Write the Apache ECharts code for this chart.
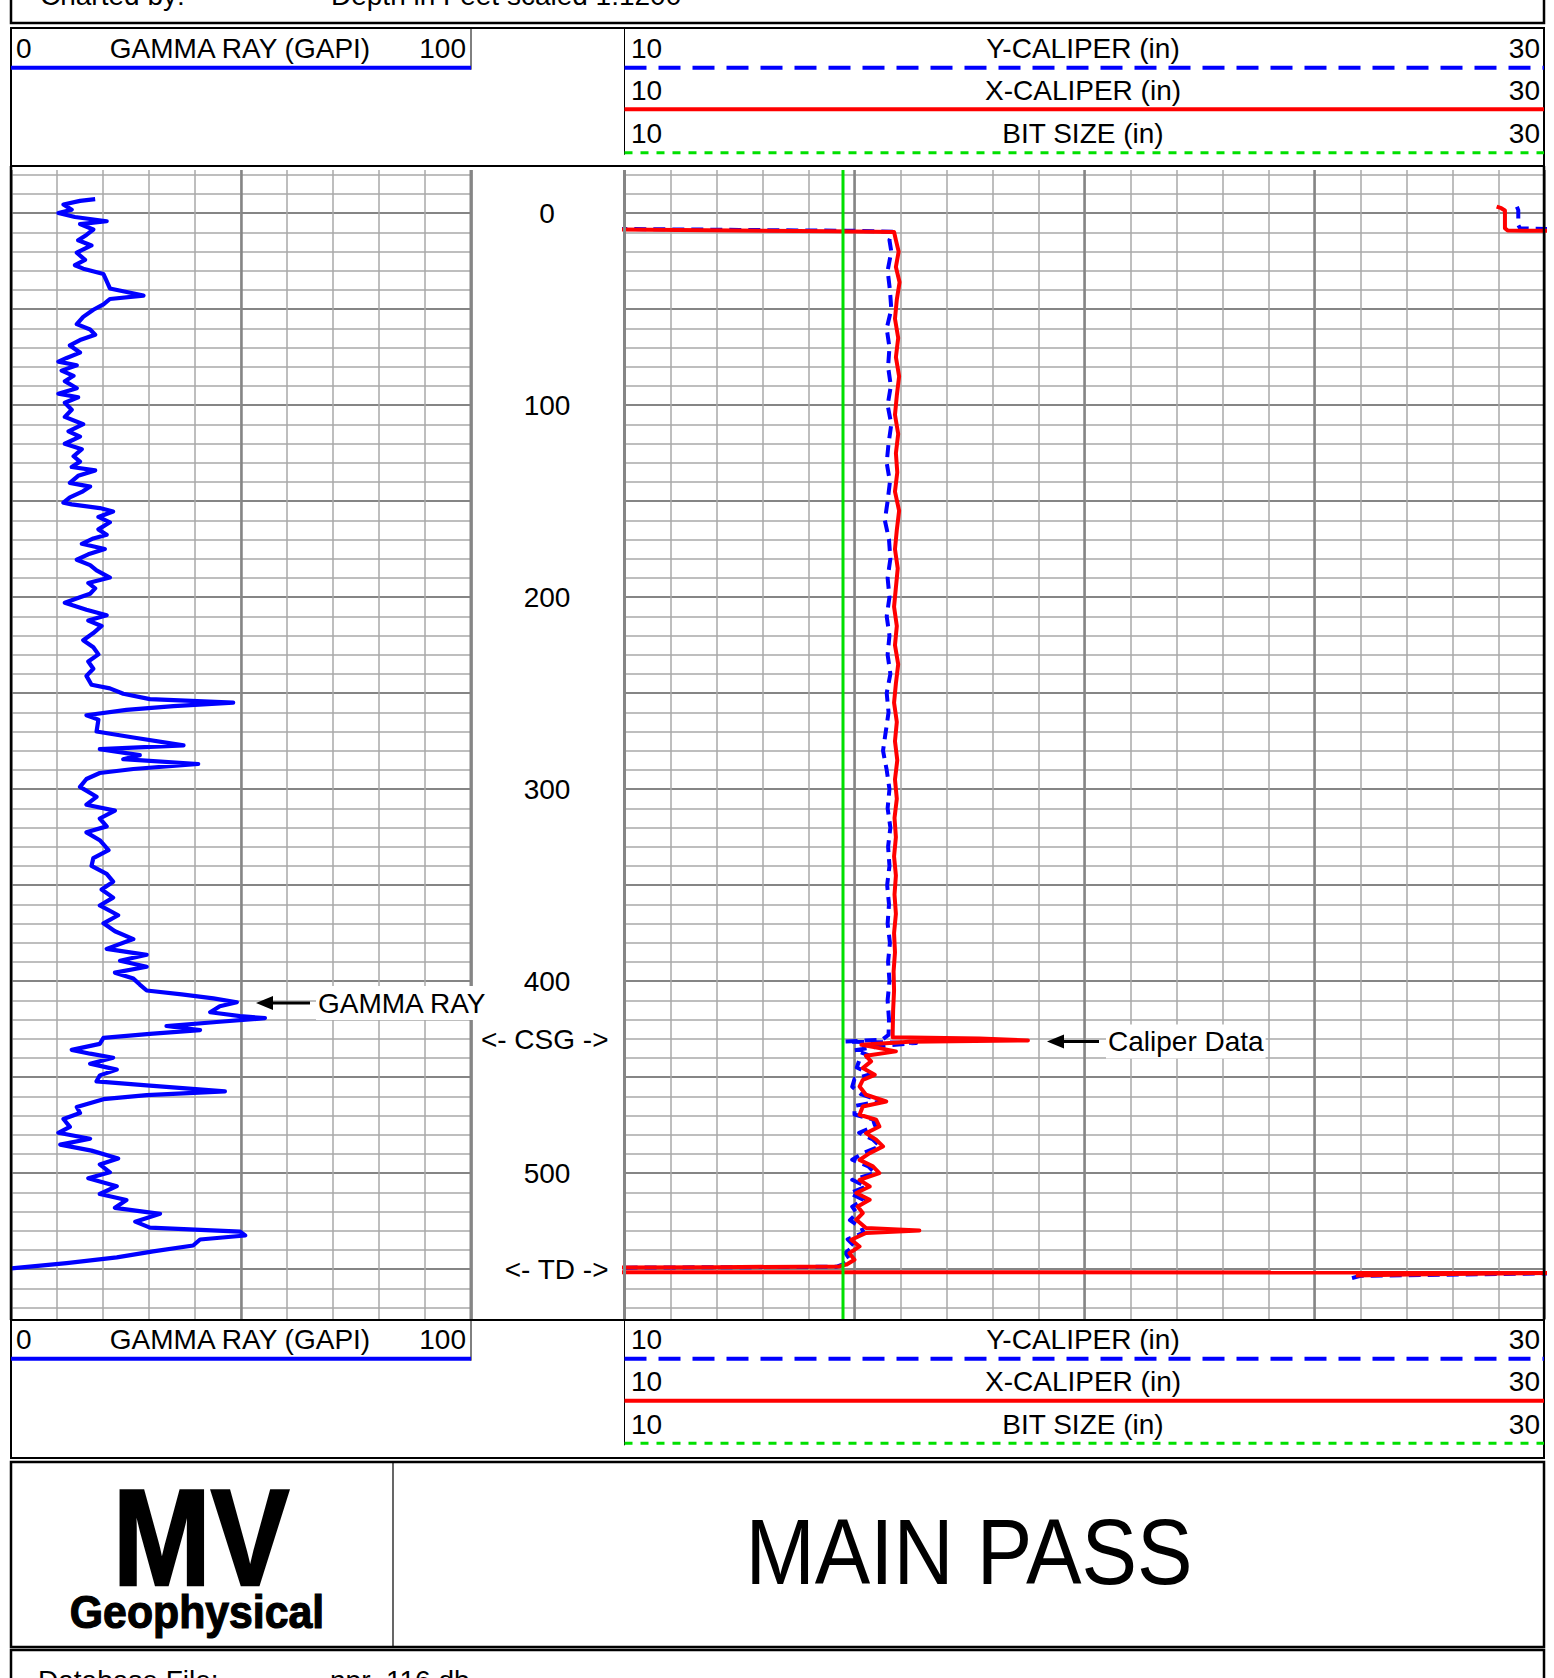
<!DOCTYPE html>
<html>
<head>
<meta charset="utf-8">
<script src="https://cdn.jsdelivr.net/npm/echarts@6/dist/echarts.min.js"></script>
<style>
  html, body { margin: 0; padding: 0; background: #fff; }
  #chart { width: 1554px; height: 1678px; }
</style>
</head>
<body>
<div id="chart"></div>
<script>
// depth track labels
const depthLabels = [0, 100, 200, 300, 400, 500];
const depthMarkers = [[430.6, "<- CSG ->"], [550.2, "<- TD ->"]];
const depthTop = -22.5;
const depthBottom = 576;

// gamma ray, [depth ft, GAPI]
const gammaRay = [
  [-7.3, 18.3], [-6.4, 15.0], [-4.5, 11.4], [-1.8, 13.2], [-0.1, 10.3], [2.0, 13.9], [4.2, 20.8],
  [5.7, 15.0], [8.5, 17.9], [11.3, 16.4], [14.1, 14.6], [16.8, 17.5], [20.6, 14.3], [24.3, 16.1],
  [27.1, 13.9], [28.9, 15.7], [29.9, 17.2], [31.7, 20.1], [35.4, 20.8], [39.2, 21.5], [42.9, 28.8],
  [44.7, 21.5], [47.5, 20.1], [50.3, 17.9], [54.0, 15.7], [57.8, 14.3], [60.6, 17.2], [63.3, 18.3],
  [66.1, 15.0], [68.9, 12.8], [72.6, 15.0], [75.4, 12.1], [77.3, 10.3], [79.2, 14.3], [82.0, 11.0],
  [84.7, 13.6], [87.5, 11.7], [91.2, 14.3], [94.0, 10.3], [95.9, 14.6], [98.7, 11.7], [102.4, 13.2],
  [106.1, 11.7], [109.9, 15.7], [113.6, 12.5], [116.4, 15.0], [120.1, 11.7], [122.9, 15.4],
  [126.6, 13.6], [129.4, 15.0], [132.2, 13.2], [134.0, 18.3], [136.8, 14.6], [140.5, 12.8],
  [142.4, 17.2], [145.2, 15.4], [148.0, 12.8], [150.8, 11.4], [151.7, 13.2], [153.6, 19.3],
  [155.4, 22.2], [158.2, 19.0], [161.0, 21.5], [164.7, 19.0], [167.5, 20.8], [169.4, 17.9],
  [172.2, 15.4], [174.9, 20.4], [177.7, 16.8], [180.5, 14.3], [183.3, 17.2], [186.1, 18.6],
  [189.8, 21.5], [192.6, 16.8], [195.4, 18.3], [198.2, 17.2], [200.1, 15.0], [202.9, 11.7],
  [206.6, 16.4], [209.4, 20.8], [212.2, 16.8], [215.0, 19.7], [218.7, 17.9], [222.4, 15.7],
  [226.1, 17.9], [229.8, 19.0], [233.5, 16.8], [237.3, 17.9], [241.0, 16.4], [245.6, 17.5],
  [247.5, 21.5], [250.3, 24.4], [253.1, 30.2], [254.9, 48.3], [256.8, 35.3], [258.7, 25.1],
  [261.5, 16.4], [263.8, 19.0], [270.0, 18.6], [273.1, 26.6], [277.2, 37.5], [279.2, 19.3],
  [282.3, 28.0], [284.4, 24.4], [286.9, 40.7], [289.5, 26.6], [291.6, 19.3], [294.7, 16.4],
  [298.8, 15.0], [304.0, 18.6], [308.1, 16.4], [311.2, 22.6], [315.3, 19.3], [319.4, 20.8],
  [322.5, 16.4], [326.6, 19.3], [331.8, 21.2], [335.9, 17.9], [340.0, 17.5], [344.1, 20.8],
  [348.2, 22.2], [352.3, 19.7], [356.5, 22.2], [360.6, 19.3], [365.7, 23.3], [369.9, 20.1],
  [374.0, 22.6], [378.1, 26.6], [383.2, 20.8], [386.3, 29.5], [389.4, 23.7], [392.5, 29.5],
  [395.6, 22.6], [398.7, 26.6], [401.8, 28.0], [404.9, 29.5], [406.9, 37.1], [409.0, 44.0],
  [411.0, 49.1], [413.1, 45.4], [416.2, 43.3], [418.2, 49.8], [419.3, 55.2], [421.3, 44.7],
  [423.4, 33.8], [425.5, 41.1], [427.5, 30.2], [429.6, 20.1], [432.7, 19.3], [435.8, 13.2],
  [437.8, 17.2], [439.9, 22.2], [443.0, 17.2], [446.1, 23.0], [449.1, 19.3], [452.2, 18.6],
  [454.3, 29.5], [457.4, 46.5], [459.4, 29.5], [461.5, 20.1], [465.6, 14.3], [468.7, 15.0],
  [471.8, 11.4], [475.9, 12.8], [479.0, 10.3], [482.1, 17.2], [485.2, 10.7], [488.3, 17.5],
  [492.4, 23.3], [495.5, 19.3], [499.6, 21.5], [502.7, 16.8], [506.8, 23.0], [510.9, 19.3],
  [514.0, 25.1], [518.1, 22.6], [521.2, 32.4], [525.3, 27.0], [528.4, 30.2], [530.5, 49.8],
  [532.5, 50.9], [534.6, 41.1], [537.7, 39.6], [540.8, 30.9], [543.9, 23.0], [546.9, 12.1],
  [549.6, 0.1]
];

// x-caliper, [depth ft, in]
const xCaliper = [
  [8.5, 9.8], [9.0, 12.4], [9.4, 14.5], [9.8, 15.86], [14, 15.9], [20, 15.96], [28, 15.9],
  [36, 15.98], [45, 15.92], [55, 15.88], [65, 15.95], [75, 15.9], [85, 15.97], [95, 15.92],
  [105, 15.88], [115, 15.95], [125, 15.9], [135, 15.93], [145, 15.88], [155, 15.97], [165, 15.92],
  [175, 15.88], [185, 15.94], [195, 15.9], [205, 15.86], [215, 15.92], [225, 15.88], [235, 15.95],
  [245, 15.9], [255, 15.86], [265, 15.92], [275, 15.88], [285, 15.93], [295, 15.88], [305, 15.92],
  [315, 15.87], [325, 15.9], [335, 15.86], [345, 15.9], [355, 15.87], [365, 15.9], [375, 15.86],
  [385, 15.88], [395, 15.85], [405, 15.86], [415, 15.84], [427.1, 15.83], [429.2, 15.83],
  [429.9, 17.72], [430.9, 18.77], [431.6, 16.2], [433.2, 15.15], [434.9, 15.54], [436.6, 15.9],
  [438.9, 15.25], [441.8, 15.36], [445.3, 15.18], [448.8, 15.44], [451.4, 15.18], [454.9, 15.11],
  [459.2, 15.25], [462.7, 15.69], [465.3, 15.18], [469.6, 15.11], [472.2, 15.47], [475.7, 15.54],
  [479.2, 15.25], [482.6, 15.47], [486.1, 15.62], [489.6, 15.33], [493.1, 15.11], [496.5, 15.4],
  [500.0, 15.54], [503.5, 15.11], [507.0, 15.33], [510.4, 15.04], [513.9, 15.33], [517.4, 15.07],
  [520.8, 15.18], [524.3, 15.04], [528.6, 15.25], [529.9, 16.41], [531.2, 15.25], [534.7, 14.93],
  [538.2, 15.11], [541.7, 14.89], [545.1, 15.0], [547.7, 14.82], [548.6, 14.67], [549.0, 12.0],
  [549.2, 9.5]
];

// y-caliper, [depth ft, in]
const yCaliper = [
  [8.2, 9.8], [8.7, 12.5], [9.2, 15.0], [9.6, 15.83], [14, 15.76], [20, 15.8], [30, 15.72],
  [40, 15.77], [50, 15.8], [60, 15.7], [70, 15.76], [80, 15.73], [90, 15.79], [100, 15.72],
  [110, 15.8], [120, 15.74], [130, 15.7], [140, 15.77], [150, 15.72], [160, 15.66], [170, 15.75],
  [180, 15.78], [190, 15.72], [200, 15.76], [210, 15.7], [220, 15.76], [230, 15.72], [240, 15.78],
  [250, 15.7], [260, 15.74], [270, 15.68], [280, 15.62], [290, 15.7], [300, 15.76], [310, 15.72],
  [320, 15.78], [330, 15.73], [340, 15.76], [350, 15.71], [360, 15.75], [370, 15.72], [380, 15.77],
  [390, 15.73], [400, 15.76], [410, 15.72], [420, 15.75], [428, 15.74], [430.5, 15.6],
  [431.5, 14.8], [432.2, 16.34], [433.8, 15.6], [436.0, 15.0], [438.5, 15.3], [441.5, 15.1],
  [445.0, 15.05], [448.5, 15.35], [451.0, 15.0], [455.0, 14.95], [459.0, 15.15], [462.5, 15.6],
  [465.0, 15.0], [469.5, 15.0], [472.0, 15.4], [475.5, 15.45], [479.0, 15.1], [482.5, 15.4],
  [486.0, 15.55], [489.5, 15.2], [493.0, 14.95], [496.5, 15.3], [500.0, 15.45], [503.5, 14.95],
  [507.0, 15.25], [510.5, 14.9], [514.0, 15.2], [517.5, 14.95], [521.0, 15.05], [524.5, 14.9],
  [528.5, 15.15], [531.0, 15.2], [534.5, 14.85], [538.0, 15.0], [541.5, 14.8], [545.0, 14.9],
  [547.5, 14.75], [548.8, 14.6], [549.3, 9.5]
];

// curve segments plotted on the wrap-around scale
const xCaliperWrapTop = [[-3.4, 28.96], [-2.6, 29.06], [-1.4, 29.14], [7.8, 29.14], [9.06, 29.2], [9.2, 30.5]];
const yCaliperWrapTop = [[-3.4, 29.4], [-1.6, 29.43], [6.2, 29.43], [7.9, 29.47], [8.1, 29.8], [8.3, 30.5]];
const xCaliperWrapBottom = [[551.6, 9.9], [551.8, 30.2]];
const xCaliperWrapTail = [[552.0, 30.2], [552.3, 29.0], [552.8, 27.0], [553.4, 25.9]];
const yCaliperWrapBottom = [[552.2, 30.2], [553.5, 26.0], [554.8, 25.8]];

const bitSize = [[depthTop, 14.75], [depthBottom, 14.75]];

const FONT = "'Liberation Sans', Arial, sans-serif";
const FS = 28;
const BLUE = "#0000ff";
const RED = "#ff0000";
const GREEN = "#00e000";
const MINOR = "#a9a9a9";
const MAJOR = "#858585";

function ticks(from, to, step) {
  const out = [];
  for (let v = from; v <= to; v += step) out.push(v);
  return out;
}
const minorDepths = ticks(-20, 570, 10);
const majorDepths = ticks(0, 550, 50);

const chart = echarts.init(document.getElementById("chart"), null, { renderer: "svg" });

const trackTop = 170;
const trackHeight = 1149;

const hideAxis = {
  axisLine: { show: false },
  axisTick: { show: false },
  axisLabel: { show: false },
};

function valueX(grid, min, max, interval, color, width) {
  return {
    gridIndex: grid, type: "value", min: min, max: max, interval: interval,
    ...hideAxis,
    splitLine: { show: true, lineStyle: { color: color, width: width } },
  };
}

function depthY(grid, values, color, width, extra) {
  return Object.assign({
    gridIndex: grid, type: "value", inverse: true, min: depthTop, max: depthBottom,
    axisLine: { show: false },
    axisTick: { show: false, customValues: values },
    axisLabel: { show: false },
    splitLine: { show: true, lineStyle: { color: color, width: width } },
  }, extra || {});
}

function lineSeries(name, data, x, y, color, width, dash, z) {
  return {
    name: name, type: "line", xAxisIndex: x, yAxisIndex: y,
    data: data.map((p) => [p[1], p[0]]),
    showSymbol: false, symbol: "none", clip: true, animation: false,
    lineStyle: { color: color, width: width, type: dash || "solid", cap: "butt", join: "round" },
    z: z || 3,
  };
}

function headerText(x, y, text, align) {
  return {
    type: "text", x: x, y: y, z: 50,
    style: {
      text: text, fontFamily: FONT, fontSize: FS, fill: "#000",
      align: align, textAlign: align, verticalAlign: "middle", textVerticalAlign: "middle",
    },
  };
}

function hline(x1, x2, y, color, width, dash) {
  return {
    type: "line", z: 50,
    shape: { x1: x1, y1: y, x2: x2, y2: y },
    style: { stroke: color, lineWidth: width, lineDash: dash || null },
  };
}

function vline(x, y1, y2, color, width) {
  return {
    type: "line", z: 50,
    shape: { x1: x, y1: y1, x2: x, y2: y2 },
    style: { stroke: color, lineWidth: width },
  };
}

function box(x, y, w, h, width) {
  return {
    type: "rect", z: 50,
    shape: { x: x, y: y, width: w, height: h },
    style: { fill: "none", stroke: "#000", lineWidth: width },
  };
}

// header block with track scales; rows gives text and line y positions
function scaleHeader(top, rows) {
  const els = [];
  els.push(box(11, top, 1533, 138, 2));
  els.push(vline(471, top, rows.lines[0] + 2, "#000", 1));
  els.push(vline(624.5, top, rows.lines[2] + 2, "#000", 1));
  els.push(headerText(16, rows.text[0], "0", "left"));
  els.push(headerText(240, rows.text[0], "GAMMA RAY (GAPI)", "center"));
  els.push(headerText(466, rows.text[0], "100", "right"));
  els.push(hline(11, 471, rows.lines[0], BLUE, 4));
  const names = ["Y-CALIPER (in)", "X-CALIPER (in)", "BIT SIZE (in)"];
  const styles = [[BLUE, 4, [22, 12]], [RED, 4, null], [GREEN, 3, [8, 8]]];
  names.forEach((n, i) => {
    els.push(headerText(631, rows.text[i], "10", "left"));
    els.push(headerText(1083, rows.text[i], n, "center"));
    els.push(headerText(1540, rows.text[i], "30", "right"));
    els.push(hline(624.5, 1544, rows.lines[i], styles[i][0], styles[i][1], styles[i][2]));
  });
  return els;
}

function arrow(tipX, tipY, endX) {
  return [
    { type: "line", z: 60, shape: { x1: tipX + 10, y1: tipY, x2: endX, y2: tipY },
      style: { stroke: "#000", lineWidth: 3 } },
    { type: "polygon", z: 60,
      shape: { points: [[tipX, tipY], [tipX + 17, tipY - 7], [tipX + 17, tipY + 7]] },
      style: { fill: "#000" } },
  ];
}

function note(x, y, text) {
  return {
    type: "text", x: x, y: y, z: 60,
    style: {
      text: text, fontFamily: FONT, fontSize: FS, fill: "#000",
      align: "left", textAlign: "left", verticalAlign: "middle", textVerticalAlign: "middle",
      backgroundColor: "#fff", padding: [3, 2, 3, 2],
    },
  };
}

const graphics = [].concat(
  // top info box
  [box(11, -20, 1533, 43, 2.5),
   headerText(40, -5, "Charted by:", "left"),
   headerText(331, -5, "Depth in Feet scaled 1:1200", "left")],
  scaleHeader(28, { text: [48.5, 90.5, 133], lines: [67.7, 109.3, 152.7] }),
  // track frame
  [vline(11, 166, 1320, "#000", 2.5), vline(1544, 166, 1320, "#000", 2.5)],
  scaleHeader(1320, { text: [1339.5, 1381.7, 1424], lines: [1358.7, 1400.7, 1443.3] }),
  // logo / title box
  [box(11, 1462, 1533, 185, 2.5), vline(393, 1462, 1647, "#000", 1.2),
   { type: "text", x: 201, y: 1606, z: 50, scaleX: 0.86,
     style: { text: "MV", fontFamily: FONT, fontWeight: "bold", fontSize: 137, fill: "#000",
              stroke: "#000", lineWidth: 2.5,
              align: "center", textAlign: "center", verticalAlign: "bottom", textVerticalAlign: "bottom" } },
   { type: "text", x: 197, y: 1612, z: 50, scaleX: 0.93,
     style: { text: "Geophysical", fontFamily: FONT, fontWeight: "bold", fontSize: 46, fill: "#000",
              stroke: "#000", lineWidth: 1.2,
              align: "center", textAlign: "center", verticalAlign: "middle", textVerticalAlign: "middle" } },
   { type: "text", x: 969, y: 1553, z: 50, scaleX: 0.905,
     style: { text: "MAIN PASS", fontFamily: FONT, fontSize: 92, fill: "#000",
              align: "center", textAlign: "center", verticalAlign: "middle", textVerticalAlign: "middle" } },
   box(11, 1650, 1533, 60, 2.5),
   headerText(38, 1680, "Database File:", "left"),
   headerText(330, 1680, "npr_116.db", "left")],
  note(316, 1003, "GAMMA RAY"), arrow(256, 1003, 310),
  note(1106, 1041.5, "Caliper Data"), arrow(1047, 1041.5, 1099)
);

const option = {
  backgroundColor: "#fff",
  animation: false,
  grid: [
    { left: 11, top: trackTop, width: 460, height: trackHeight, containLabel: false, outerBoundsMode: "none" },
    { left: 624.5, top: trackTop, width: 920, height: trackHeight, containLabel: false, outerBoundsMode: "none" },
  ],
  xAxis: [
    valueX(0, 0, 100, 10, MINOR, 1.5),
    valueX(0, 0, 100, 50, MAJOR, 2.5),
    valueX(1, 10, 30, 1, MINOR, 1.5),
    valueX(1, 10, 30, 5, MAJOR, 2.5),
  ],
  yAxis: [
    depthY(0, minorDepths, MINOR, 1.5, {
      position: "right",
      axisLabel: {
        show: true, customValues: depthLabels, margin: 76, align: "center",
        fontFamily: FONT, fontSize: FS, color: "#000",
      },
    }),
    depthY(0, majorDepths, MAJOR, 2.2),
    depthY(1, minorDepths, MINOR, 1.5, {
      position: "left",
      axisLabel: {
        show: true, customValues: depthMarkers.map((m) => m[0]), margin: 16, align: "right",
        fontFamily: FONT, fontSize: FS, color: "#000",
        formatter: (v) => {
          const m = depthMarkers.find((d) => Math.abs(d[0] - v) < 0.01);
          return m ? m[1] : "";
        },
      },
    }),
    depthY(1, majorDepths, MAJOR, 2.2),
  ],
  series: [
    lineSeries("GAMMA RAY", gammaRay, 0, 0, BLUE, 4.2),
    lineSeries("Y-CALIPER", yCaliper, 2, 2, BLUE, 4, [12, 7]),
    lineSeries("Y-CALIPER wrap", yCaliperWrapTop, 2, 2, BLUE, 4, [12, 7]),
    lineSeries("Y-CALIPER wrap", yCaliperWrapBottom, 2, 2, BLUE, 4, [12, 7]),
    lineSeries("X-CALIPER", xCaliper, 2, 2, RED, 4, null, 4),
    lineSeries("X-CALIPER wrap", xCaliperWrapTop, 2, 2, RED, 4, null, 4),
    lineSeries("X-CALIPER wrap", xCaliperWrapBottom, 2, 2, RED, 4, null, 4),
    lineSeries("X-CALIPER wrap", xCaliperWrapTail, 2, 2, RED, 4, null, 4),
    lineSeries("BIT SIZE", bitSize, 2, 2, GREEN, 3, null, 5),
  ],
  graphic: {
    elements: graphics.concat([
      // gray track edges between gamma and caliper tracks
      vline(471, trackTop, trackTop + trackHeight, MAJOR, 3),
      vline(624.5, trackTop, trackTop + trackHeight, MAJOR, 3),
    ]),
  },
};

chart.setOption(option);
</script>
</body>
</html>
